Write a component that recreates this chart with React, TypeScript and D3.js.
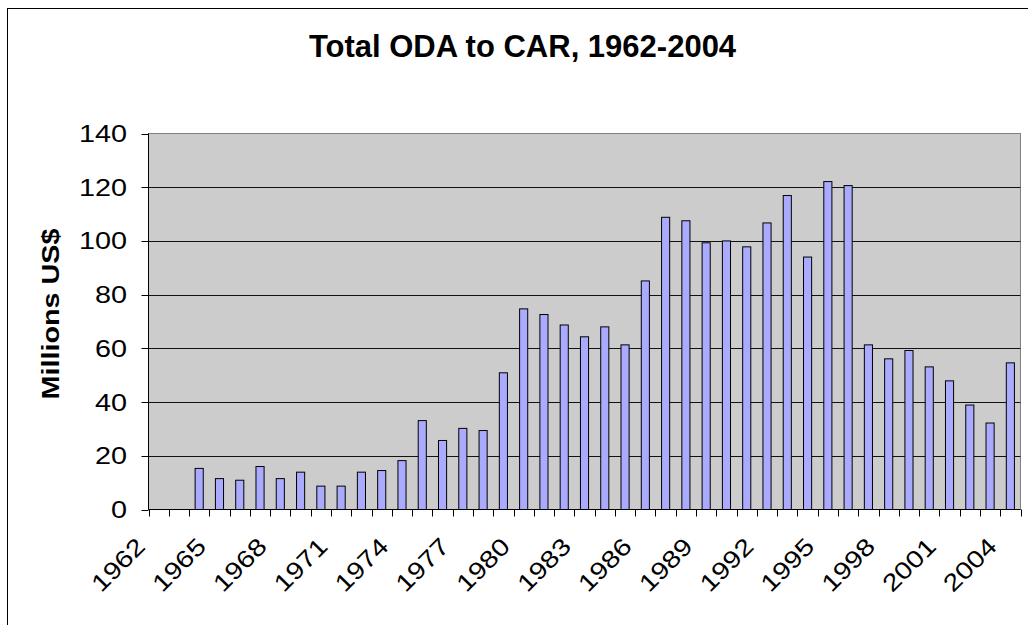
import { useEffect, useRef } from 'react';
import * as d3 from 'd3';

// ODA to the Central African Republic, millions US$
const years = [
  1962, 1963, 1964, 1965, 1966, 1967, 1968, 1969, 1970, 1971, 1972,
  1973, 1974, 1975, 1976, 1977, 1978, 1979, 1980, 1981, 1982, 1983,
  1984, 1985, 1986, 1987, 1988, 1989, 1990, 1991, 1992, 1993, 1994,
  1995, 1996, 1997, 1998, 1999, 2000, 2001, 2002, 2003, 2004,
];

const oda: (number | null)[] = [
  null, null, 15.3, 11.5, 10.9, 16.0, 11.5, 13.9, 8.7, 8.7, 13.9,
  14.5, 18.2, 33.1, 25.7, 30.2, 29.4, 50.9, 74.7, 72.6, 68.7, 64.3,
  68.0, 61.3, 85.1, 108.8, 107.5, 99.3, 100.0, 97.8, 106.7, 116.9, 94.0,
  122.1, 120.6, 61.3, 56.1, 59.2, 53.1, 47.9, 38.9, 32.2, 54.6,
];

const yTicks = [0, 20, 40, 60, 80, 100, 120, 140];
const labelYears = [1962, 1965, 1968, 1971, 1974, 1977, 1980, 1983, 1986, 1989, 1992, 1995, 1998, 2001, 2004];

export default function App() {
  const svgRef = useRef<SVGSVGElement>(null);

  useEffect(() => {
    if (!svgRef.current) return;
    const svg = d3.select(svgRef.current);
    svg.selectAll('*').remove();

    const left = 148.5;
    const right = 1020.5;
    const top = 133.5;
    const bottom = 509.5;
    const font = 'Arial, "Liberation Sans", sans-serif';

    // chart area frame
    svg
      .append('rect')
      .attr('x', 7.5)
      .attr('y', 8.5)
      .attr('width', 1100)
      .attr('height', 800)
      .attr('fill', 'white')
      .attr('stroke', '#000');

    const x = d3
      .scaleBand<number>()
      .domain(years)
      .range([left, right])
      .padding(0);

    const y = d3.scaleLinear().domain([0, 140]).range([bottom, top]);

    // plot area
    svg
      .append('rect')
      .attr('x', left)
      .attr('y', top)
      .attr('width', right - left)
      .attr('height', bottom - top)
      .attr('fill', '#cccccc')
      .attr('stroke', '#808080');

    // gridlines
    svg
      .append('g')
      .selectAll('line')
      .data(yTicks.filter((t) => t > 0 && t < 140))
      .enter()
      .append('line')
      .attr('x1', left)
      .attr('x2', right)
      .attr('y1', (d) => Math.round(y(d)) + 0.5)
      .attr('y2', (d) => Math.round(y(d)) + 0.5)
      .attr('stroke', '#111')
      .attr('stroke-width', 1);

    // bars
    const barW = x.bandwidth() * 0.4;
    svg
      .append('g')
      .selectAll('rect')
      .data(years.map((yr, i) => ({ yr, v: oda[i] })).filter((d) => d.v !== null))
      .enter()
      .append('rect')
      .attr('x', (d) => x(d.yr)! + (x.bandwidth() - barW) / 2)
      .attr('y', (d) => y(d.v as number))
      .attr('width', barW)
      .attr('height', (d) => bottom - y(d.v as number))
      .attr('fill', '#aaaaff')
      .attr('stroke', '#000')
      .attr('stroke-width', 1);

    // y axis
    svg
      .append('line')
      .attr('x1', left)
      .attr('x2', left)
      .attr('y1', top)
      .attr('y2', bottom)
      .attr('stroke', '#000');

    const yAxis = svg.append('g');
    yAxis
      .selectAll('line')
      .data(yTicks)
      .enter()
      .append('line')
      .attr('x1', left - 7)
      .attr('x2', left)
      .attr('y1', (d) => Math.round(y(d)) + 0.5)
      .attr('y2', (d) => Math.round(y(d)) + 0.5)
      .attr('stroke', '#000');

    yAxis
      .selectAll('text')
      .data(yTicks)
      .enter()
      .append('text')
      .attr('transform', (d) => `translate(127,${y(d) + 8.5}) scale(1.2,1)`)
      .attr('text-anchor', 'end')
      .style('font-family', font)
      .style('font-size', '24px')
      .attr('fill', '#000')
      .text((d) => d);

    // x axis
    svg
      .append('line')
      .attr('x1', left)
      .attr('x2', right)
      .attr('y1', bottom)
      .attr('y2', bottom)
      .attr('stroke', '#000');

    const xAxis = svg.append('g');
    xAxis
      .selectAll('line')
      .data(years.concat([years[years.length - 1] + 1]))
      .enter()
      .append('line')
      .attr('x1', (d, i) => Math.round(left + i * x.bandwidth()) + 0.5)
      .attr('x2', (d, i) => Math.round(left + i * x.bandwidth()) + 0.5)
      .attr('y1', bottom)
      .attr('y2', bottom + 7)
      .attr('stroke', '#000');

    xAxis
      .selectAll('text')
      .data(labelYears)
      .enter()
      .append('text')
      .attr(
        'transform',
        (d) => `translate(${x(d)! + x.bandwidth() / 2 - 12},548) rotate(-45) scale(1.2,1)`
      )
      .attr('text-anchor', 'end')
      .style('font-family', font)
      .style('font-size', '24px')
      .attr('fill', '#000')
      .text((d) => d);

    // axis title
    svg
      .append('text')
      .attr('transform', `translate(59,314) rotate(-90) scale(1.2,1)`)
      .attr('text-anchor', 'middle')
      .style('font-family', font)
      .style('font-size', '24px')
      .style('font-weight', 'bold')
      .attr('fill', '#000')
      .text('Millions US$');

    // title
    svg
      .append('text')
      .attr('x', 522.5)
      .attr('y', 57)
      .attr('text-anchor', 'middle')
      .style('font-family', font)
      .style('font-size', '31px')
      .style('font-weight', 'bold')
      .attr('fill', '#000')
      .text('Total ODA to CAR, 1962-2004');
  }, []);

  return (
    <svg
      ref={svgRef}
      width={1028}
      height={625}
      style={{ position: 'absolute', left: 0, top: 0, display: 'block' }}
    />
  );
}
